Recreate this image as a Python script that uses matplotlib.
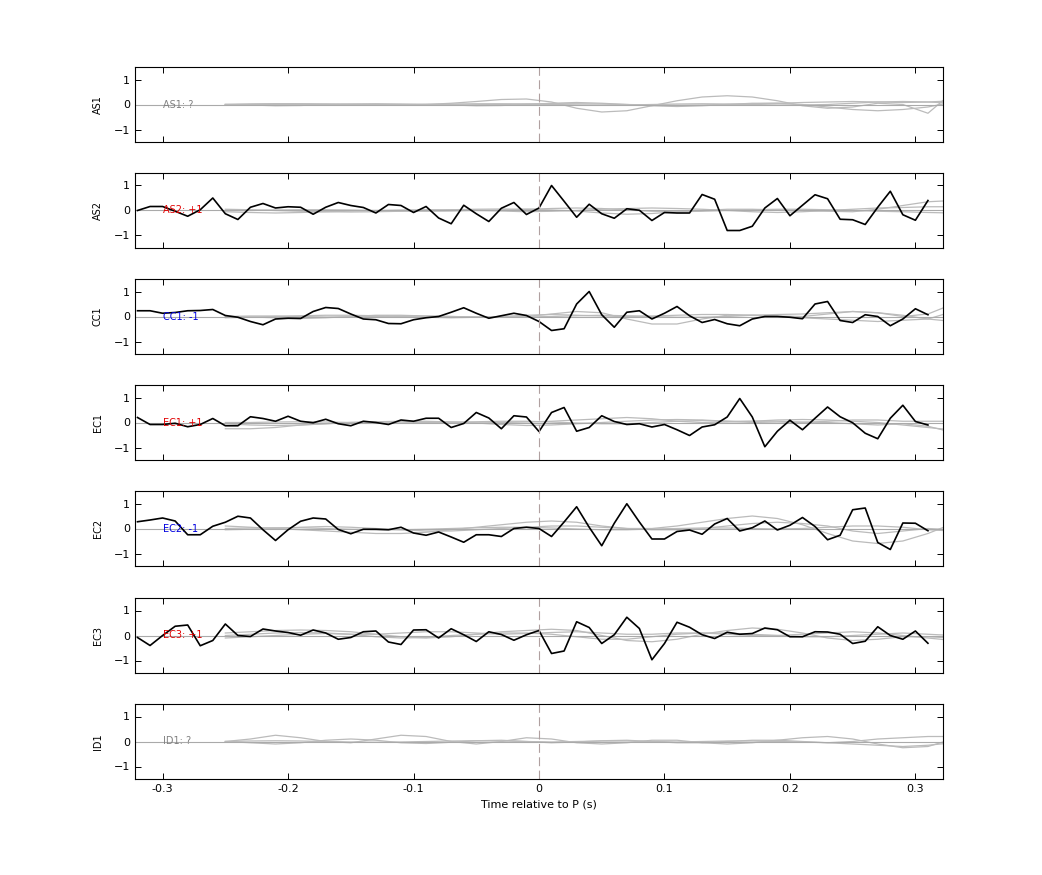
import numpy as np
import matplotlib
matplotlib.use("Agg")
import matplotlib.pyplot as plt

t_black = np.round(np.arange(-0.32, 0.315, 0.01), 2)
t_gray = np.round(np.arange(-0.25, 0.335, 0.02), 2)

names = ["AS1", "AS2", "CC1", "EC1", "EC2", "EC3", "ID1"]
tags = ["AS1: ?", "AS2: +1", "CC1: -1", "EC1: +1", "EC2: -1", "EC3: +1", "ID1: ?"]
tag_colors = ["#808080", "#e00000", "#0000e0", "#e00000", "#0000e0", "#e00000", "#808080"]

AS2 = [0, 0.16, 0.16, -0.03, -0.23, 0.03, 0.5, -0.13, -0.36, 0.13, 0.28, 0.1, 0.15, 0.13, -0.15, 0.13,
       0.32, 0.2, 0.12, -0.1, 0.24, 0.2, -0.08, 0.16, -0.3, -0.53, 0.21, -0.13, -0.44, 0.09, 0.32, -0.16, 0.1,
       1.0, 0.37, -0.27, 0.25, -0.13, -0.31, 0.07, 0.01, -0.4, -0.08, -0.1, -0.1, 0.64, 0.45, -0.8, -0.8,
       -0.63, 0.1, 0.48, -0.21, 0.21, 0.63, 0.47, -0.35, -0.37, -0.56, 0.13, 0.77, -0.17, -0.39, 0.4]
CC1 = [0.23, 0.23, 0.13, 0.16, 0.23, 0.24, 0.28, 0.04, -0.03, -0.2, -0.33, -0.1, -0.07, -0.08, 0.2, 0.36,
       0.32, 0.1, -0.1, -0.13, -0.28, -0.29, -0.13, -0.05, 0, 0.17, 0.35, 0.13, -0.07, 0.03, 0.13, 0.04, -0.2,
       -0.56, -0.49, 0.5, 1.0, 0.07, -0.43, 0.17, 0.23, -0.1, 0.13, 0.4, 0.03, -0.24, -0.12, -0.29, -0.37,
       -0.1, 0, 0, -0.03, -0.09, 0.5, 0.6, -0.16, -0.24, 0.07, 0, -0.37, -0.1, 0.31, 0.07]
EC1 = [0.2, -0.08, -0.08, -0.03, -0.17, -0.08, 0.16, -0.13, -0.13, 0.23, 0.16, 0.05, 0.25, 0.05, -0.01, 0.13,
       -0.05, -0.13, 0.05, 0, -0.08, 0.1, 0.05, 0.17, 0.17, -0.2, -0.04, 0.4, 0.18, -0.25, 0.27, 0.22, -0.36,
       0.4, 0.6, -0.35, -0.2, 0.27, 0.04, -0.08, -0.05, -0.18, -0.08, -0.29, -0.52, -0.18, -0.09, 0.22, 0.96,
       0.22, -0.97, -0.35, 0.09, -0.29, 0.17, 0.62, 0.23, -0.01, -0.43, -0.65, 0.17, 0.69, 0.04, -0.1]
EC2 = [0.27, 0.34, 0.42, 0.3, -0.25, -0.25, 0.09, 0.25, 0.49, 0.42, -0.05, -0.48, -0.05, 0.29, 0.42, 0.38,
       -0.04, -0.21, -0.03, -0.03, -0.05, 0.05, -0.18, -0.27, -0.14, -0.34, -0.55, -0.25, -0.25, -0.32, 0, 0.05, 0,
       -0.32, 0.26, 0.87, 0.05, -0.69, 0.21, 0.99, 0.26, -0.42, -0.42, -0.12, -0.06, -0.23, 0.18, 0.4, -0.1,
       0.03, 0.3, -0.06, 0.13, 0.44, 0.08, -0.45, -0.27, 0.75, 0.82, -0.56, -0.84, 0.22, 0.21, -0.09]
EC3 = [-0.08, -0.4, 0, 0.37, 0.42, -0.41, -0.2, 0.46, 0, -0.04, 0.26, 0.18, 0.12, 0.01, 0.22, 0.1,
       -0.15, -0.08, 0.15, 0.18, -0.26, -0.36, 0.22, 0.23, -0.1, 0.27, 0.03, -0.24, 0.15, 0.04, -0.19, 0.03, 0.2,
       -0.72, -0.62, 0.55, 0.32, -0.32, 0.03, 0.73, 0.28, -0.97, -0.32, 0.53, 0.33, 0.03, -0.12, 0.13, 0.05,
       0.08, 0.3, 0.23, -0.05, -0.05, 0.15, 0.14, 0.05, -0.32, -0.23, 0.35, 0, -0.15, 0.18, -0.31]
black = {"AS2": AS2, "CC1": CC1, "EC1": EC1, "EC2": EC2, "EC3": EC3}

# gray traces, sampled every 0.02 s from -0.25 s
gray = {
    "AS1": [
        [0, 0.02, 0.03, 0.02, 0, -0.02, -0.03, -0.02, 0, 0.05, 0.12, 0.2, 0.22, 0.1, -0.15, -0.3, -0.25, -0.05,
         0.15, 0.3, 0.35, 0.3, 0.15, -0.05, -0.15, -0.1, 0.05, 0.0, -0.35, 0.5],
        [0, -0.02, -0.05, -0.04, 0, 0.02, 0.03, 0.02, 0, -0.02, -0.05, -0.04, 0, 0.05, 0.08, 0.05, 0, -0.05,
         -0.08, -0.05, 0, 0.05, 0.05, 0, -0.1, -0.2, -0.25, -0.2, -0.1, 0.1],
        [0, 0, 0.01, 0.02, 0.02, 0.01, 0, -0.01, -0.02, -0.02, -0.01, 0, 0.02, 0.03, 0.03, 0.02, 0, -0.02, -0.03,
         -0.02, 0, 0.03, 0.05, 0.08, 0.1, 0.12, 0.1, 0.08, 0.1, 0.15],
        [0, 0.01, 0.02, 0.02, 0.01, 0, 0, 0, 0.01, 0.02, 0.03, 0.03, 0.02, 0, -0.02, -0.03, -0.02, 0, 0.02, 0.03,
         0.02, 0, -0.02, -0.02, 0, 0.05, 0.1, 0.12, 0.1, 0.05],
    ],
    "AS2": [
        [-0.05, -0.08, -0.1, -0.08, -0.05, -0.02, 0, 0.02, 0.03, 0.02, 0, -0.02, -0.05, -0.03, 0, 0.05, 0.08,
         0.1, 0.08, 0.05, 0, -0.05, -0.08, -0.05, 0, 0.05, 0.1, 0.12, 0.15, 0.15],
        [0.05, 0.03, 0, -0.03, -0.05, -0.06, -0.05, -0.03, 0, 0.03, 0.05, 0.06, 0.05, 0.02, -0.02, -0.1, -0.15,
         -0.12, -0.05, 0, 0.05, 0.05, 0.02, 0, -0.03, -0.05, 0.05, 0.2, 0.35, 0.4],
        [0, 0, 0.02, 0.03, 0.03, 0.02, 0, -0.02, -0.03, -0.02, 0, 0.02, 0.05, 0.08, 0.1, 0.08, 0.02, -0.03,
         -0.05, -0.03, 0, 0.03, 0.05, 0.05, 0.03, 0, -0.03, -0.05, -0.08, -0.1],
    ],
    "CC1": [
        [0, -0.02, -0.05, -0.08, -0.05, 0, 0.05, 0.05, 0.02, 0, -0.02, -0.02, 0, 0.1, 0.2, 0.15, -0.1, -0.3,
         -0.3, -0.1, 0.05, 0.05, 0.02, 0, 0.1, 0.2, 0.15, 0, 0.1, 0.5],
        [-0.05, -0.03, 0, 0.03, 0.05, 0.05, 0.03, 0, -0.03, -0.05, -0.03, 0, 0.05, 0.08, 0.05, 0.02, 0, 0.02,
         0.05, 0.08, 0.08, 0.05, 0, -0.05, -0.1, -0.15, -0.2, -0.15, -0.1, 0.2],
        [0, 0.02, 0.02, 0, -0.02, -0.02, 0, 0.02, 0.02, 0, -0.02, -0.03, -0.02, 0, 0.03, 0.05, 0.03, 0, -0.03,
         -0.03, 0, 0.05, 0.08, 0.1, 0.15, 0.2, 0.15, 0.05, -0.1, -0.2],
    ],
    "EC1": [
        [-0.25, -0.25, -0.2, -0.1, -0.05, 0, 0.02, 0.03, 0.02, 0, -0.02, 0, 0.02, 0.05, 0.1, 0.15, 0.2, 0.15,
         0.05, 0, 0.02, 0.05, 0.05, 0.02, 0, -0.05, -0.1, -0.05, -0.15, -0.4],
        [-0.05, -0.1, -0.12, -0.1, -0.05, 0, 0.03, 0.05, 0.05, 0.02, -0.02, -0.08, -0.12, -0.1, -0.05, 0,
         0.05, 0.1, 0.12, 0.1, 0.05, 0.05, 0.1, 0.12, 0.1, 0.05, 0, -0.1, -0.2, -0.3],
        [0, 0, 0.02, 0.03, 0.02, 0, -0.02, -0.02, 0, 0.02, 0.03, 0.05, 0.05, 0.02, -0.02, -0.05, -0.05, 0,
         0.05, 0.08, 0.05, 0, -0.02, 0, 0.05, 0.1, 0.1, 0.05, 0.05, 0.05],
    ],
    "EC2": [
        [0.1, 0.05, 0, -0.05, -0.1, -0.15, -0.2, -0.2, -0.15, -0.05, 0.05, 0.15, 0.25, 0.3, 0.25, 0.1, 0, 0,
         0.1, 0.25, 0.4, 0.5, 0.4, 0.15, -0.2, -0.5, -0.6, -0.5, -0.2, 0.2],
        [-0.05, -0.03, 0, 0.05, 0.08, 0.05, 0, -0.05, -0.1, -0.1, -0.05, 0, 0.05, 0.1, 0.1, 0.05, 0, -0.05,
         -0.05, 0, 0.1, 0.2, 0.25, 0.2, 0.1, -0.1, -0.2, -0.1, 0, -0.05],
        [0, 0.02, 0.03, 0.03, 0, -0.03, -0.05, -0.05, -0.03, 0, 0.03, 0.05, 0.05, 0.02, -0.02, -0.05, -0.05,
         -0.02, 0, 0.02, 0.02, 0, -0.02, 0, 0.05, 0.1, 0.1, 0.05, -0.05, -0.1],
    ],
    "EC3": [
        [0.1, 0.15, 0.2, 0.22, 0.2, 0.15, 0.05, -0.05, -0.1, -0.05, 0.05, 0.15, 0.2, 0.25, 0.2, 0.0, -0.2,
         -0.25, -0.15, 0.05, 0.2, 0.3, 0.25, 0.1, -0.1, -0.2, -0.15, -0.05, -0.05, -0.1],
        [-0.1, -0.05, 0, 0.05, 0.08, 0.05, -0.05, -0.1, -0.08, 0, 0.05, 0.1, 0.1, 0.05, -0.05, -0.15, -0.15,
         -0.05, 0.05, 0.1, 0.1, 0.05, 0, -0.05, -0.05, 0, 0.05, 0.1, 0.05, 0],
        [0, 0.05, 0.1, 0.12, 0.1, 0.05, 0.05, 0.1, 0.15, 0.15, 0.1, 0.05, 0.08, 0.12, 0.15, 0.1, 0.05, 0.05,
         0.1, 0.1, 0.05, 0, 0, 0.05, 0.1, 0.15, 0.1, 0, -0.1, -0.2],
    ],
    "ID1": [
        [0, 0.1, 0.25, 0.15, 0, -0.05, 0.1, 0.25, 0.2, 0, -0.1, 0, 0.15, 0.1, -0.05, -0.1, -0.05, 0.05, 0.05,
         -0.05, -0.1, -0.05, 0.05, 0.15, 0.2, 0.1, -0.1, -0.25, -0.2, 0.1],
        [0, -0.05, -0.1, -0.05, 0.05, 0.1, 0.05, -0.05, -0.08, -0.03, 0.03, 0.05, 0, -0.05, -0.02, 0.03, 0.05,
         0, -0.05, -0.05, 0, 0.05, 0.05, 0, -0.05, 0, 0.1, 0.15, 0.2, 0.2],
        [0, 0.02, 0.03, 0.02, 0, -0.02, -0.03, -0.02, 0, 0.02, 0.03, 0.02, 0, -0.02, 0, 0.02, 0.02, 0, -0.02,
         0, 0.02, 0.02, 0, -0.02, -0.05, -0.1, -0.15, -0.2, -0.15, -0.05],
    ],
}

fig = plt.figure(figsize=(10.42, 8.75), dpi=100)
W, H = 1042, 875
left, right = 135, 943
tops = [67, 173, 279, 385, 491, 598, 704]
ph = 75

for i, name in enumerate(names):
    top = tops[i]
    ax = fig.add_axes([left / W, 1 - (top + ph) / H, (right - left) / W, ph / H])
    for g in gray[name]:
        ax.plot(t_gray, g, color="#bbbbbb", lw=0.9)
    ax.axhline(0, color="#aaaaaa", lw=0.8)
    if name in black:
        ax.plot(t_black, black[name], color="black", lw=1.2)
    ax.axvline(0, color="#b0a0a0", lw=0.8, ls=(0, (8, 4)))
    ax.text(-0.30, 0, tags[i], color=tag_colors[i], fontsize=7, va="center", ha="left")
    ax.set_xlim(-0.322, 0.322)
    ax.set_ylim(-1.5, 1.5)
    ax.set_yticks([-1, 0, 1])
    ax.set_xticks([-0.3, -0.2, -0.1, 0, 0.1, 0.2, 0.3])
    ax.tick_params(direction="in", top=True, right=True, labelsize=8, length=4, width=0.7)
    ax.set_ylabel(name, fontsize=7)
    ax.yaxis.set_label_coords(-0.04, 0.5)
    for s in ax.spines.values():
        s.set_linewidth(0.8)
    if i < len(names) - 1:
        ax.set_xticklabels([])
    else:
        ax.set_xticklabels(["-0.3", "-0.2", "-0.1", "0", "0.1", "0.2", "0.3"])
        ax.set_xlabel("Time relative to P (s)", fontsize=8)

fig.savefig("out.png", dpi=100)
